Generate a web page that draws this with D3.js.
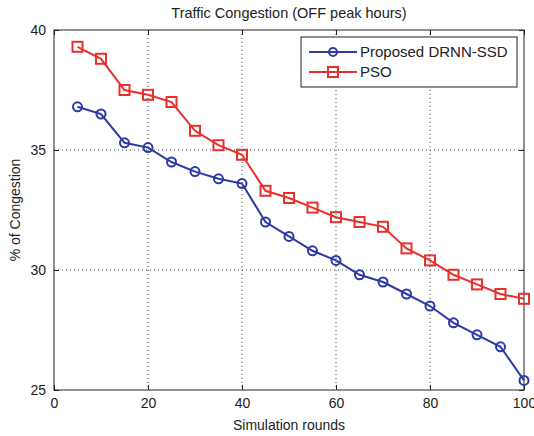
<!DOCTYPE html>
<html>
<head>
<meta charset="utf-8">
<script src="https://cdn.jsdelivr.net/npm/d3@7"></script>
<style>
  body { margin: 0; background: #fff; }
  text { font-family: "Liberation Sans", Arial, sans-serif; fill: #222; }
</style>
</head>
<body>
<div id="chart"></div>
<script>
// data
const rounds = [5, 10, 15, 20, 25, 30, 35, 40, 45, 50, 55, 60, 65, 70, 75, 80, 85, 90, 95, 100];
const drnn = [36.8, 36.5, 35.3, 35.1, 34.5, 34.1, 33.8, 33.6, 32.0, 31.4, 30.8, 30.4, 29.8, 29.5, 29.0, 28.5, 27.8, 27.3, 26.8, 25.4];
const pso = [39.3, 38.8, 37.5, 37.3, 37.0, 35.8, 35.2, 34.8, 33.3, 33.0, 32.6, 32.2, 32.0, 31.8, 30.9, 30.4, 29.8, 29.4, 29.0, 28.8];
const xTicks = [0, 20, 40, 60, 80, 100];
const yTicks = [25, 30, 35, 40];
const seriesNames = ["Proposed DRNN-SSD", "PSO"];

const width = 534, height = 436;
const margin = { top: 30, right: 10, bottom: 46, left: 54 };
const w = width - margin.left - margin.right,
      h = height - margin.top - margin.bottom;

const svg = d3.select("#chart").append("svg")
  .attr("width", width)
  .attr("height", height);

const g = svg.append("g")
  .attr("transform", "translate(" + margin.left + "," + margin.top + ")");

const x = d3.scaleLinear().domain([0, 100]).range([0, w]);
const y = d3.scaleLinear().domain([25, 40]).range([h, 0]);

// grid, dotted like matlab
g.append("g").selectAll("line")
  .data(xTicks.slice(1, -1))
  .enter().append("line")
  .attr("x1", x).attr("x2", x)
  .attr("y1", 0).attr("y2", h)
  .attr("stroke", "#444").attr("stroke-width", 1)
  .attr("stroke-dasharray", "1,3");
g.append("g").selectAll("line")
  .data(yTicks.slice(1, -1))
  .enter().append("line")
  .attr("y1", y).attr("y2", y)
  .attr("x1", 0).attr("x2", w)
  .attr("stroke", "#444").attr("stroke-width", 1)
  .attr("stroke-dasharray", "1,3");

// axes (ticks inward, on all 4 sides)
const tickStyle = sel => {
  sel.select(".domain").remove();
  sel.attr("font-family", null).attr("font-size", null);
  sel.selectAll("line").attr("stroke", "#222");
  sel.selectAll("text").style("font-size", "14px").attr("fill", "#222");
};
g.append("g").attr("transform", "translate(0," + h + ")")
  .call(d3.axisBottom(x).tickValues(xTicks).tickSizeInner(-5).tickSizeOuter(0).tickPadding(8))
  .call(tickStyle);
g.append("g")
  .call(d3.axisTop(x).tickValues(xTicks).tickSizeInner(-5).tickSizeOuter(0).tickFormat(""))
  .call(tickStyle);
g.append("g")
  .call(d3.axisLeft(y).tickValues(yTicks).tickSizeInner(-5).tickSizeOuter(0).tickPadding(8))
  .call(tickStyle);
g.append("g").attr("transform", "translate(" + w + ",0)")
  .call(d3.axisRight(y).tickValues(yTicks).tickSizeInner(-5).tickSizeOuter(0).tickFormat(""))
  .call(tickStyle);

g.append("rect")
  .attr("width", w).attr("height", h)
  .attr("fill", "none").attr("stroke", "#222").attr("stroke-width", 1);

const blue = "#2b3aa6", red = "#e8302c";
const line = d3.line().x((d, i) => x(rounds[i])).y(d => y(d));

// PSO
g.append("path").datum(pso)
  .attr("d", line).attr("fill", "none")
  .attr("stroke", red).attr("stroke-width", 2);
g.append("g").selectAll("rect")
  .data(pso)
  .enter().append("rect")
  .attr("x", (d, i) => x(rounds[i]) - 5)
  .attr("y", d => y(d) - 5)
  .attr("width", 10).attr("height", 10)
  .attr("fill", "none").attr("stroke", red).attr("stroke-width", 2);

// DRNN-SSD
g.append("path").datum(drnn)
  .attr("d", line).attr("fill", "none")
  .attr("stroke", blue).attr("stroke-width", 2);
g.append("g").selectAll("circle")
  .data(drnn)
  .enter().append("circle")
  .attr("cx", (d, i) => x(rounds[i]))
  .attr("cy", d => y(d))
  .attr("r", 4.5)
  .attr("fill", "none").attr("stroke", blue).attr("stroke-width", 2);

// legend
const lg = svg.append("g").attr("transform", "translate(301,37)");
lg.append("rect").attr("width", 216).attr("height", 50)
  .attr("fill", "#fff").attr("stroke", "#222").attr("stroke-width", 1);
seriesNames.forEach(function (name, i) {
  const ly = 15 + i * 20, col = i == 0 ? blue : red;
  lg.append("line").attr("x1", 8).attr("x2", 56).attr("y1", ly).attr("y2", ly)
    .attr("stroke", col).attr("stroke-width", 2);
  if (i == 0) {
    lg.append("circle").attr("cx", 32).attr("cy", ly).attr("r", 4)
      .attr("fill", "none").attr("stroke", col).attr("stroke-width", 2);
  } else {
    lg.append("rect").attr("x", 27).attr("y", ly - 5).attr("width", 10).attr("height", 10)
      .attr("fill", "none").attr("stroke", col).attr("stroke-width", 2);
  }
  lg.append("text").attr("x", 59).attr("y", ly + 5)
    .style("font-size", "15px").text(name);
});

// labels
svg.append("text")
  .attr("x", margin.left + w / 2).attr("y", 18)
  .attr("text-anchor", "middle").style("font-size", "14.5px")
  .text("Traffic Congestion (OFF peak hours)");
svg.append("text")
  .attr("x", margin.left + w / 2).attr("y", 430)
  .attr("text-anchor", "middle").style("font-size", "14px")
  .text("Simulation rounds");
svg.append("text")
  .attr("transform", "translate(20," + (margin.top + h / 2) + ") rotate(-90)")
  .attr("text-anchor", "middle").style("font-size", "14px")
  .text("% of Congestion");
</script>
</body>
</html>
